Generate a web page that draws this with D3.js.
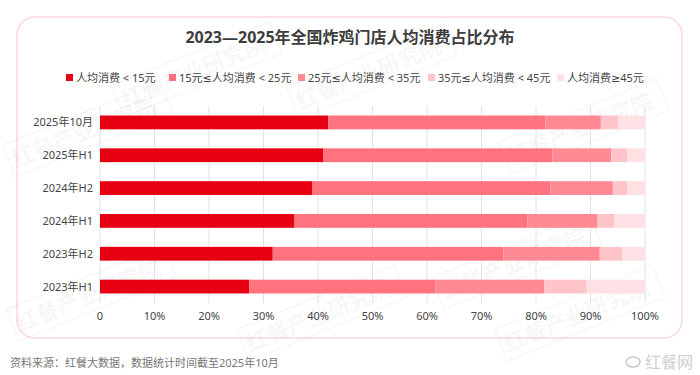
<!DOCTYPE html>
<html>
<head>
<meta charset="utf-8">
<script src="https://cdn.jsdelivr.net/npm/d3@7"></script>
<style>
  body { margin: 0; background: #fff; }
  svg { display: block; font-family: "Noto Sans", "DejaVu Sans", "Noto Sans CJK SC", sans-serif; }
</style>
</head>
<body>
<svg class="s"></svg>
<script>
var periods = ['2025年10月', '2025年H1', '2024年H2', '2024年H1', '2023年H2', '2023年H1'];
var bands = ['人均消费 < 15元', '15元≤人均消费 < 25元', '25元≤人均消费 < 35元', '35元≤人均消费 < 45元', '人均消费≥45元'];
var below15 = [41.9, 41.0, 38.9, 35.7, 31.7, 27.4];
var from15to25 = [39.8, 42.0, 43.7, 42.7, 42.3, 34.1];
var from25to35 = [10.2, 10.8, 11.5, 12.9, 17.7, 20.0];
var from35to45 = [3.2, 3.0, 2.7, 3.1, 4.1, 7.8];
var above45 = [4.9, 3.2, 3.2, 5.6, 4.2, 10.7];
var xTicks = [0, 10, 20, 30, 40, 50, 60, 70, 80, 90, 100];
var colors = ['#e60012', '#ff737f', '#ff8a94', '#ffc4ca', '#ffe1e5'];

var w = 700;
var h = 375;

var svg = d3.select('.s')
            .attr('width', w)
            .attr('height', h);

// card
svg.append('rect')
   .attr('x', 17).attr('y', 17)
   .attr('width', 665).attr('height', 321)
   .attr('rx', 18)
   .attr('fill', '#fff')
   .attr('stroke', '#fbd9dc')
   .attr('stroke-width', 1.5);

svg.append('text')
   .attr('x', 350).attr('y', 43)
   .attr('text-anchor', 'middle')
   .attr('font-size', 16)
   .attr('font-weight', 'bold')
   .attr('fill', '#3d3d3d')
   .text('2023—2025年全国炸鸡门店人均消费占比分布');

// legend
var legendX = [66, 169, 298, 428, 557];
var legend = svg.append('g').selectAll('g')
                .data(bands)
                .enter()
                .append('g')
                .attr('transform', function(d, i){ return 'translate(' + legendX[i] + ',78)'; });
legend.append('rect')
      .attr('x', 0).attr('y', -4)
      .attr('width', 7).attr('height', 7)
      .attr('fill', function(d, i){ return colors[i]; });
legend.append('text')
      .attr('x', 10).attr('y', 4)
      .attr('font-size', 11)
      .attr('fill', '#444')
      .text(function(d){ return d; });

var x = d3.scaleLinear()
          .domain([0, 100])
          .range([100, 645]);

var y = d3.scaleBand()
          .domain(periods)
          .range([106, 303])
          .paddingInner(0.58)
          .paddingOuter(0.29);

// watermarks (drawn under the bars)
var marks = [[16, 168], [512, 165], [20, 332], [445, 300], [250, 352], [508, 352], [125, 108], [300, 110]];
var wm = svg.append('g')
            .selectAll('g')
            .data(marks)
            .enter()
            .append('g')
            .attr('transform', function(d){ return 'translate(' + d[0] + ',' + d[1] + ') rotate(-22)'; });
wm.append('rect')
  .attr('x', -4).attr('y', -26)
  .attr('width', 170).attr('height', 34)
  .attr('fill', 'none')
  .attr('stroke', 'rgba(0,0,0,0.05)');
wm.append('text')
  .attr('x', 0).attr('y', 0)
  .attr('font-size', 22)
  .attr('font-weight', 'bold')
  .attr('fill', 'rgba(0,0,0,0.05)')
  .text('红餐产业研究院');

// grid
svg.append('g')
   .selectAll('line')
   .data(xTicks)
   .enter()
   .append('line')
   .attr('x1', function(d){ return x(d); })
   .attr('x2', function(d){ return x(d); })
   .attr('y1', 106).attr('y2', 303)
   .attr('stroke', '#e2e2e2')
   .attr('stroke-width', 1);

var table = periods.map(function(p, i){
  return { period: p, a: below15[i], b: from15to25[i], c: from25to35[i], d: from35to45[i], e: above45[i] };
});

var stack = d3.stack().keys(['a', 'b', 'c', 'd', 'e']);
var series = stack(table);

svg.append('g')
   .selectAll('g')
   .data(series)
   .enter()
   .append('g')
   .attr('fill', function(d, i){ return colors[i]; })
   .selectAll('rect')
   .data(function(d){ return d; })
   .enter()
   .append('rect')
   .attr('x', function(d){ return x(d[0]); })
   .attr('width', function(d){ return Math.max(0, x(Math.min(100, d[1])) - x(d[0])); })
   .attr('y', function(d){ return y(d.data.period); })
   .attr('height', y.bandwidth());

// y labels
svg.append('g')
   .selectAll('text')
   .data(periods)
   .enter()
   .append('text')
   .attr('x', 93)
   .attr('y', function(d){ return y(d) + y.bandwidth() / 2 + 4; })
   .attr('text-anchor', 'end')
   .attr('font-size', 11)
   .attr('fill', '#444')
   .text(function(d){ return d; });

// x labels
svg.append('g')
   .selectAll('text')
   .data(xTicks)
   .enter()
   .append('text')
   .attr('x', function(d){ return x(d); })
   .attr('y', 320)
   .attr('text-anchor', 'middle')
   .attr('font-size', 11)
   .attr('fill', '#444')
   .text(function(d){ return d === 0 ? '0' : d + '%'; });

// footer
svg.append('text')
   .attr('x', 10).attr('y', 367)
   .attr('font-size', 11)
   .attr('fill', '#777')
   .text('资料来源：红餐大数据，数据统计时间截至2025年10月');

svg.append('ellipse')
   .attr('cx', 633).attr('cy', 362)
   .attr('rx', 7).attr('ry', 5)
   .attr('fill', 'none')
   .attr('stroke', '#c8c8c8')
   .attr('stroke-width', 1.5);
svg.append('text')
   .attr('x', 645).attr('y', 368)
   .attr('font-size', 16)
   .attr('fill', '#d0d0d0')
   .text('红餐网');
</script>
</body>
</html>
